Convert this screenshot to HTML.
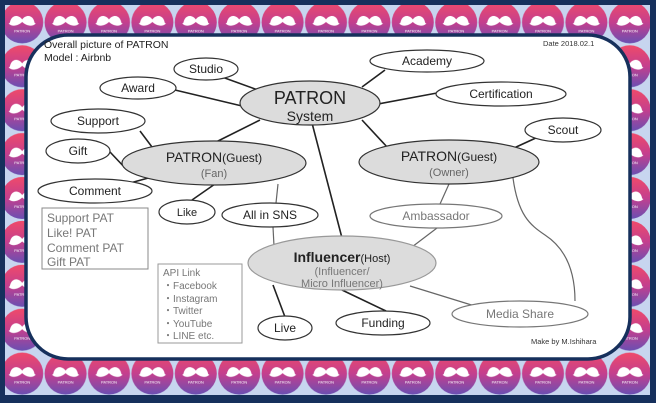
<!DOCTYPE html>
<html><head><meta charset="utf-8"><style>
html,body{margin:0;padding:0;background:#16305c}
svg{display:block}
text{font-family:"Liberation Sans",sans-serif}
</style></head><body>
<svg width="656" height="403" viewBox="0 0 656 403" xmlns="http://www.w3.org/2000/svg">
<defs>
<linearGradient id="g" x1="0" y1="0" x2="0" y2="1">
<stop offset="0" stop-color="#ef4a6a"/><stop offset="0.5" stop-color="#c43f8e"/><stop offset="1" stop-color="#6a4fb2"/>
</linearGradient>
<pattern id="p" x="0.5" y="0.5" width="43.4" height="43.9" patternUnits="userSpaceOnUse">
<rect width="43.4" height="43.9" fill="#c7d5ef"/>
<circle cx="21.7" cy="21.9" r="21" fill="url(#g)"/>
<path d="M21.7 19 C18 14 13 15 11 18 C9 21 10 23 8 23 C12 27 18 25 21.7 21.5 C25.4 25 31.4 27 35.4 23 C33.4 23 34.4 21 32.4 18 C30.4 15 25.4 14 21.7 19 Z" fill="#fff"/>
<text x="21.7" y="32" font-size="4" fill="#fff" text-anchor="middle">PATRON</text>
</pattern>
</defs>
<rect x="0" y="0" width="656" height="403" fill="#16305c"/>
<rect x="5" y="5" width="645" height="390" fill="url(#p)"/>
<rect x="26" y="35" width="604" height="324" rx="42" fill="#fff" stroke="#16305c" stroke-width="3.5"/>

<g stroke="#222" stroke-width="1.6" fill="none">
<line x1="222" y1="77" x2="258" y2="90"/>
<line x1="175" y1="90" x2="242" y2="106"/>
<line x1="260" y1="120" x2="216" y2="142"/>
<line x1="312" y1="123" x2="342" y2="238"/>
<line x1="385" y1="70" x2="362" y2="87"/>
<line x1="437" y1="93" x2="378" y2="104"/>
<line x1="362" y1="120" x2="388" y2="148"/>
<line x1="514" y1="148" x2="538" y2="137"/>
<line x1="140" y1="131" x2="152" y2="147"/>
<line x1="110" y1="152" x2="127" y2="170"/>
<line x1="130" y1="183" x2="152" y2="177"/>
<line x1="215" y1="184" x2="192" y2="200"/>
<line x1="273" y1="285" x2="285" y2="317"/>
<line x1="342" y1="290" x2="386" y2="311"/>
</g>
<g stroke="#666" stroke-width="1.2" fill="none">
<line x1="278" y1="184" x2="276" y2="203"/>
<line x1="273" y1="227" x2="274" y2="246"/>
<line x1="449" y1="184" x2="440" y2="204"/>
<line x1="437" y1="228" x2="408" y2="250"/>
<line x1="410" y1="286" x2="478" y2="307"/>
<path d="M513 178 C518 215 530 225 545 235 C568 250 575 275 575 301"/>
</g>

<g stroke="#333" stroke-width="1.2">
<ellipse cx="310" cy="103" rx="70" ry="22" fill="#dcdcdc"/>
<ellipse cx="214" cy="163" rx="92" ry="22" fill="#dcdcdc"/>
<ellipse cx="449" cy="162" rx="90" ry="22" fill="#dcdcdc"/>
<ellipse cx="342" cy="263" rx="94" ry="27" fill="#dcdcdc" stroke="#999"/>
<g fill="#fff">
<ellipse cx="206" cy="69" rx="32" ry="11"/>
<ellipse cx="138" cy="88" rx="38" ry="11"/>
<ellipse cx="427" cy="61" rx="57" ry="11"/>
<ellipse cx="501" cy="94" rx="65" ry="12"/>
<ellipse cx="98" cy="121" rx="47" ry="12"/>
<ellipse cx="78" cy="151" rx="32" ry="12"/>
<ellipse cx="95" cy="191" rx="57" ry="12"/>
<ellipse cx="563" cy="130" rx="38" ry="12"/>
<ellipse cx="187" cy="212" rx="28" ry="12"/>
<ellipse cx="270" cy="215" rx="48" ry="12"/>
<ellipse cx="436" cy="216" rx="66" ry="12" stroke="#777"/>
<ellipse cx="285" cy="328" rx="27" ry="12"/>
<ellipse cx="383" cy="323" rx="47" ry="12"/>
<ellipse cx="520" cy="314" rx="68" ry="13" stroke="#777"/>
</g>
</g>

<g font-size="12" fill="#222" text-anchor="middle">
<text x="310" y="104" font-size="18">PATRON</text>
<text x="310" y="121" font-size="14">System</text>
<text x="214" y="162" font-size="14">PATRON<tspan font-size="12">(Guest)</tspan></text>
<text x="214" y="177" font-size="11" fill="#666">(Fan)</text>
<text x="449" y="161" font-size="14">PATRON<tspan font-size="12">(Guest)</tspan></text>
<text x="449" y="176" font-size="11" fill="#666">(Owner)</text>
<text x="342" y="262" font-size="14" font-weight="bold">Influencer<tspan font-size="11" font-weight="normal">(Host)</tspan></text>
<text x="342" y="275" font-size="11" fill="#777">(Influencer/</text>
<text x="342" y="287" font-size="11" fill="#777">Micro Influencer)</text>
<text x="206" y="73">Studio</text>
<text x="138" y="92">Award</text>
<text x="427" y="65">Academy</text>
<text x="501" y="98">Certification</text>
<text x="98" y="125">Support</text>
<text x="78" y="155">Gift</text>
<text x="95" y="195">Comment</text>
<text x="563" y="134">Scout</text>
<text x="187" y="216" font-size="11">Like</text>
<text x="270" y="219">All in SNS</text>
<text x="436" y="220" fill="#777">Ambassador</text>
<text x="285" y="332">Live</text>
<text x="383" y="327">Funding</text>
<text x="520" y="318" fill="#777">Media Share</text>
</g>

<text x="44" y="48" font-size="10.5" fill="#222">Overall picture of PATRON</text>
<text x="44" y="61" font-size="10.5" fill="#222">Model : Airbnb</text>
<text x="543" y="46" font-size="7.5" fill="#333">Date 2018.02.1</text>
<text x="531" y="344" font-size="7.5" fill="#333">Make by M.Ishihara</text>

<rect x="42" y="208" width="106" height="61" fill="#fff" stroke="#888"/>
<g font-size="12" fill="#777">
<text x="47" y="222">Support PAT</text>
<text x="47" y="237">Like! PAT</text>
<text x="47" y="252">Comment PAT</text>
<text x="47" y="266">Gift PAT</text>
</g>
<rect x="158" y="264" width="84" height="79" fill="#fff" stroke="#999"/>
<g font-size="10" fill="#777">
<text x="163" y="276">API Link</text>
<text x="163" y="289">・Facebook</text>
<text x="163" y="302">・Instagram</text>
<text x="163" y="314">・Twitter</text>
<text x="163" y="327">・YouTube</text>
<text x="163" y="339">・LINE etc.</text>
</g>
</svg>
</body></html>
